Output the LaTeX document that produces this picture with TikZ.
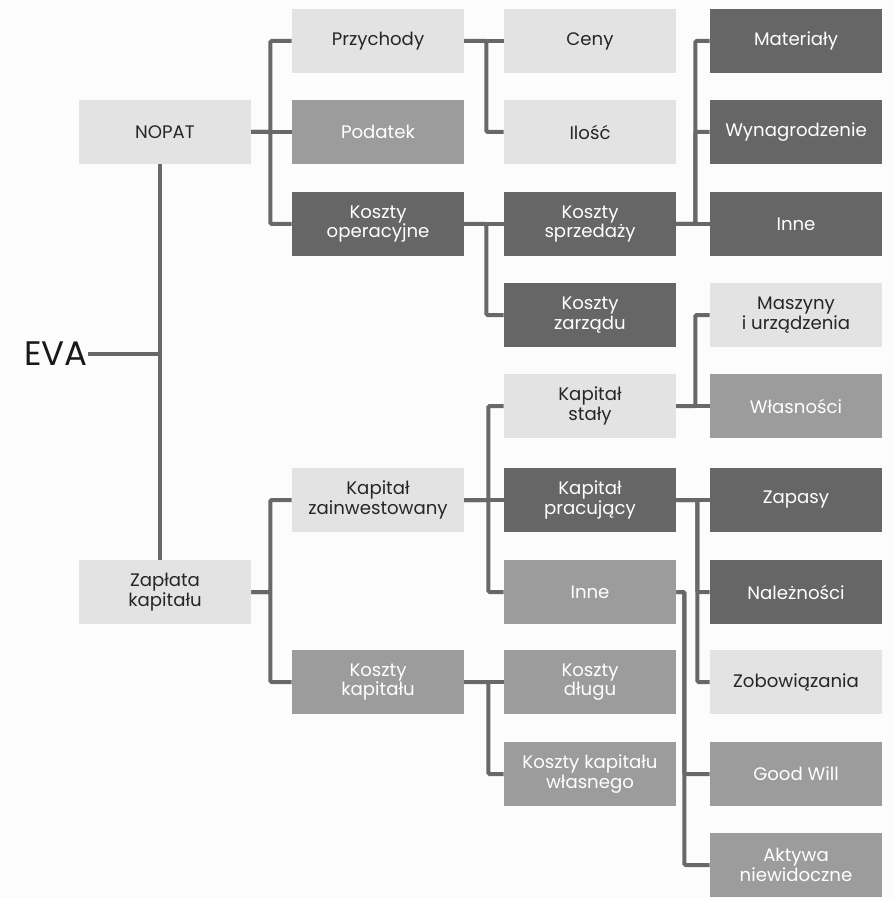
\documentclass[tikz,border=0pt]{standalone}
\usepackage{fontspec}
\setmainfont{Poppins}
\usetikzlibrary{positioning}
\definecolor{boxlight}{HTML}{E3E3E3}
\definecolor{boxmid}{HTML}{9C9C9C}
\definecolor{boxdark}{HTML}{666666}
\definecolor{linegray}{HTML}{686868}
\definecolor{paper}{HTML}{FCFCFC}

\begin{document}
\begin{tikzpicture}[x=0.75pt,y=-0.75pt,
  box/.style={minimum width=129pt, minimum height=48pt, inner sep=0pt, align=center, font=\fontsize{13.6}{13}\selectfont},
  light/.style={box, fill=boxlight, text=black!85},
  mid/.style={box, fill=boxmid, text=white},
  dark/.style={box, fill=boxdark, text=white},
  conn/.style={draw=linegray, line width=3pt, rounded corners=1pt}]
\fill[paper] (0,0) rectangle (894,898);
\useasboundingbox (0,0) rectangle (894,898);
% Root
\node [anchor=west, inner sep=0pt, font=\fontsize{25.5}{25.5}\selectfont, text=black!90] (eva) at (24,354) {EVA};
\coordinate (trunk) at (160,354);
% First level
\node [light] (nopat) at (165,132) {NOPAT};
\node [light] (zaplata) at (165,592) {Zapłata\\kapitału};
% Second level
\node [light] (przychody) at (378,41) {Przychody};
\node [mid] (podatek) at (378,132) {Podatek};
\node [dark] (koperac) at (378,224) {Koszty\\operacyjne};
\node [light] (kzainw) at (378,500) {Kapitał\\zainwestowany};
\node [mid] (kkapit) at (378,682) {Koszty\\kapitału};
% Third level
\node [light] (ceny) at (590,41) {Ceny};
\node [light] (ilosc) at (590,132) {Ilość};
\node [dark] (ksprzed) at (590,224) {Koszty\\sprzedaży};
\node [dark] (kzarz) at (590,315) {Koszty\\zarządu};
\node [light] (kstaly) at (590,406) {Kapitał\\stały};
\node [dark] (kprac) at (590,500) {Kapitał\\pracujący};
\node [mid] (inneA) at (590,592) {Inne};
\node [mid] (kdlugu) at (590,682) {Koszty\\długu};
\node [mid] (kwlasn) at (590,774) {Koszty kapitału\\własnego};
% Fourth level
\node [dark] (materialy) at (796,41) {Materiały};
\node [dark] (wynagr) at (796,132) {Wynagrodzenie};
\node [dark] (inneB) at (796,224) {Inne};
\node [light] (maszyny) at (796,315) {Maszyny\\i urządzenia};
\node [mid] (wlasnosci) at (796,406) {Własności};
\node [dark] (zapasy) at (796,500) {Zapasy};
\node [dark] (naleznosci) at (796,592) {Należności};
\node [light] (zobow) at (796,682) {Zobowiązania};
\node [mid] (goodwill) at (796,774) {Good Will};
\node [mid] (aktywa) at (796,865) {Aktywa\\niewidoczne};
% Connectors
\draw [conn] (eva.east) -- (trunk);
\draw [conn] ([xshift=-3.75pt]nopat.south) -- ([xshift=-3.75pt]zaplata.north);
\draw [conn] (nopat.east) -- ++(19,0) |- (przychody.west);
\draw [conn] (nopat.east) -- (podatek.west);
\draw [conn] (nopat.east) -- ++(19,0) |- (koperac.west);
\draw [conn] (przychody.east) -- (ceny.west);
\draw [conn] (przychody.east) -- ++(22,0) |- (ilosc.west);
\draw [conn] (koperac.east) -- (ksprzed.west);
\draw [conn] (koperac.east) -- ++(22,0) |- (kzarz.west);
\draw [conn] (ksprzed.east) -- ++(19,0) |- (materialy.west);
\draw [conn] (ksprzed.east) -- ++(19,0) |- (wynagr.west);
\draw [conn] (ksprzed.east) -- (inneB.west);
\draw [conn] (zaplata.east) -- ++(19,0) |- (kzainw.west);
\draw [conn] (zaplata.east) -- ++(19,0) |- (kkapit.west);
\draw [conn] (kzainw.east) -- ++(24,0) |- (kstaly.west);
\draw [conn] (kzainw.east) -- (kprac.west);
\draw [conn] (kzainw.east) -- ++(24,0) |- (inneA.west);
\draw [conn] (kstaly.east) -- ++(19,0) |- (maszyny.west);
\draw [conn] (kstaly.east) -- (wlasnosci.west);
\draw [conn] (kprac.east) -- (zapasy.west);
\draw [conn] (kprac.east) -- ++(21,0) |- (naleznosci.west);
\draw [conn] (kprac.east) -- ++(21,0) |- (zobow.west);
\draw [conn] (inneA.east) -- ++(8,0) |- (goodwill.west);
\draw [conn] (inneA.east) -- ++(8,0) |- (aktywa.west);
\draw [conn] (kkapit.east) -- (kdlugu.west);
\draw [conn] (kkapit.east) -- ++(24,0) |- (kwlasn.west);
\end{tikzpicture}
\end{document}
